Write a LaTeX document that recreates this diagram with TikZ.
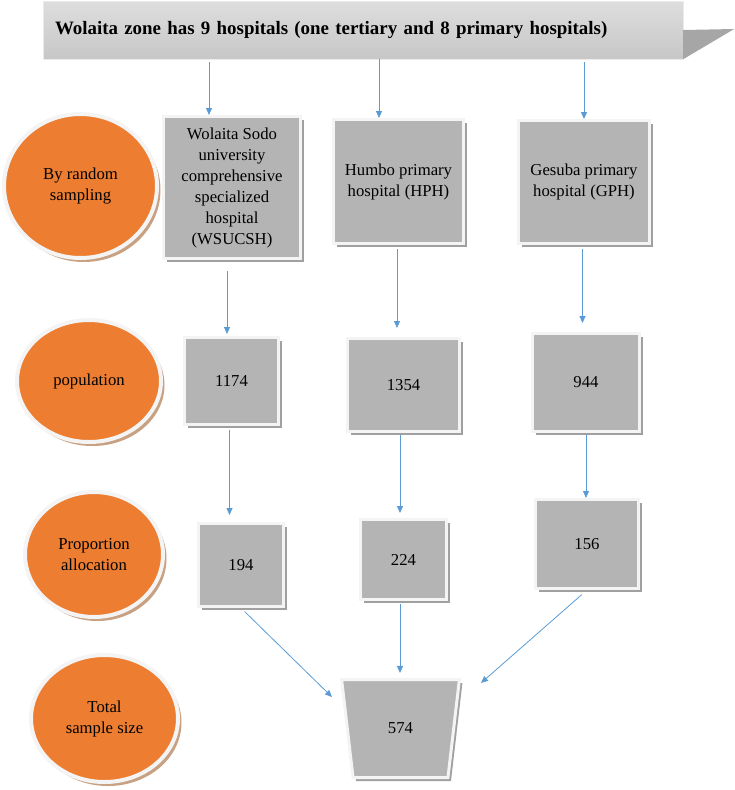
\documentclass[tikz,border=0pt]{standalone}
\usepackage{fontspec}
\setmainfont{Liberation Serif}
\usepackage{tikz}
\usetikzlibrary{arrows.meta, shapes.geometric, shadows}

\definecolor{ovalorange}{RGB}{237,125,49}
\definecolor{boxgray}{RGB}{180,180,180}
\definecolor{rimwhite}{RGB}{244,244,244}
\definecolor{boxshade}{RGB}{160,160,160}
\definecolor{ovalshade}{RGB}{200,160,130}
\definecolor{flowblue}{RGB}{91,155,213}
\definecolor{foldgray}{RGB}{166,166,166}

\begin{document}
\begin{tikzpicture}[x=1pt, y=-1pt, >={Triangle[length=7pt,width=6pt]},
  banner/.style={rectangle, draw=black!8, top color=black!13, middle color=black!4, bottom color=black!22,
    text width=616pt, inner xsep=12pt, minimum height=58pt, align=left,
    font=\fontsize{18.9}{23}\selectfont\bfseries},
  hospbox/.style={rectangle, fill=boxgray, draw=rimwhite, line width=3pt, align=center, inner sep=2pt,
    font=\fontsize{16.7}{21}\selectfont,
    drop shadow={shadow xshift=3pt, shadow yshift=-3.5pt, fill=boxshade, opacity=1}},
  stage/.style={ellipse, fill=ovalorange, draw=rimwhite, line width=4pt, align=center, inner sep=0pt,
    font=\fontsize{16.7}{21}\selectfont,
    drop shadow={shadow xshift=3.5pt, shadow yshift=-4pt, fill=ovalshade, opacity=1}},
  flow/.style={->, draw=flowblue, line width=0.8pt}]

\useasboundingbox (0,0) rectangle (735,790);

\node[banner] (banner) at (363,30) {Wolaita zone has 9 hospitals (one tertiary and 8 primary hospitals)};
\fill[foldgray] (banner.east) -- ++(51,-1) -- (banner.south east) -- cycle;

\node[stage, minimum width=153pt, minimum height=144pt] (random) at (80.5,186) {By random\\sampling};
\node[stage, minimum width=144pt, minimum height=122pt] (population) at (89,381) {population};
\node[stage, minimum width=138pt, minimum height=125pt] (proportion) at (94,554.5) {Proportion\\allocation};
\node[stage, minimum width=147pt, minimum height=127pt] (samplesize) at (104.5,718.5) {Total\\sample size};

\node[hospbox, minimum width=137pt, minimum height=142pt] (wsucsh) at (232,187.5)
  {Wolaita Sodo\\university\\comprehensive\\specialized\\hospital\\(WSUCSH)};
\node[hospbox, minimum width=130pt, minimum height=124pt] (hph) at (398.5,181.5) {Humbo primary\\hospital (HPH)};
\node[hospbox, minimum width=131pt, minimum height=123pt] (gph) at (584,182) {Gesuba primary\\hospital (GPH)};

\node[hospbox, minimum width=94pt, minimum height=87pt] (pop1) at (231.5,381) {1174};
\node[hospbox, minimum width=112pt, minimum height=93pt] (pop2) at (403.5,385) {1354};
\node[hospbox, minimum width=107pt, minimum height=98pt] (pop3) at (586,382.5) {944};

\node[hospbox, minimum width=85pt, minimum height=83pt] (alloc1) at (241,565) {194};
\node[hospbox, minimum width=86pt, minimum height=80pt] (alloc2) at (403.5,559.5) {224};
\node[hospbox, minimum width=103pt, minimum height=89pt] (alloc3) at (587,544) {156};

\node[hospbox, trapezium, trapezium angle=77, trapezium stretches=true, shape border rotate=180,
  minimum width=118pt, minimum height=98pt] (total) at (400.5,728.5) {574};

\coordinate (inL) at (332,697);
\coordinate (inR) at (481,683);

\draw[flow, shorten <=3pt] ([xshift=-23pt]wsucsh.north |- banner.south) -- ([xshift=-23pt]wsucsh.north);
\draw[flow] ([xshift=-19.5pt]hph.north |- banner.south) -- ([xshift=-19.5pt]hph.north);
\draw[flow, shorten <=3pt] (gph.north |- banner.south) -- (gph.north);

\draw[flow, shorten <=11pt, shorten >=2pt] ([xshift=-5pt]wsucsh.south) -- ([xshift=-5pt]wsucsh.south |- pop1.north);
\draw[flow, shorten <=4pt, shorten >=9pt] ([xshift=-1.5pt]hph.south) -- ([xshift=-1.5pt]hph.south |- pop2.north);
\draw[flow, shorten <=4pt, shorten >=9pt] ([xshift=-1.5pt]gph.south) -- ([xshift=-1.5pt]gph.south |- pop3.north);

\draw[flow, shorten <=4pt, shorten >=7pt] ([xshift=-2pt]pop1.south) -- ([xshift=-2pt]pop1.south |- alloc1.north);
\draw[flow, shorten <=2pt, shorten >=5pt] ([xshift=-3.5pt]pop2.south) -- ([xshift=-3.5pt]pop2.south |- alloc2.north);
\draw[flow, shorten <=2pt] (pop3.south) -- (pop3.south |- alloc3.north);

\draw[flow, shorten <=5pt] (alloc1.south) -- (inL);
\draw[flow, shorten <=3pt, shorten >=5pt] ([xshift=-3.5pt]alloc2.south) -- ([xshift=-3.5pt]alloc2.south |- total.north);
\draw[flow, shorten <=7pt] (alloc3.south) -- (inR);

\end{tikzpicture}
\end{document}
